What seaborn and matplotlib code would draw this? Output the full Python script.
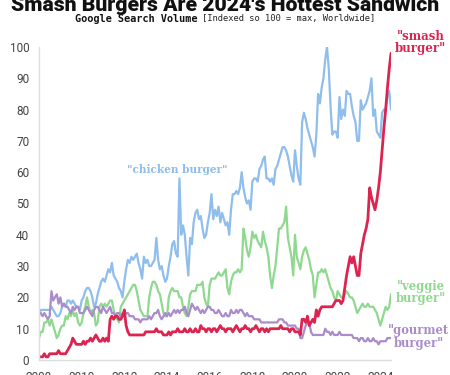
import numpy as np
import pandas as pd
import matplotlib
matplotlib.use("Agg")
import matplotlib.pyplot as plt
import seaborn as sns

# ---- data (monthly, Jan 2008 .. Jul 2024) ----
start_year = 2008
chicken = [14,16,16,16,16,16,16,17,16,15,14,14,
           15,17,18,17,19,19,18,19,18,17,17,16,
           19,20,22,23,23,22,20,17,18,21,23,25,
           26,25,27,29,28,31,27,26,25,23,22,20,
           25,29,32,31,33,32,33,34,31,29,26,33,
           31,32,30,30,31,32,39,32,29,30,27,25,
           26,30,33,37,38,34,33,58,40,43,40,33,
           27,39,37,44,47,48,45,46,42,39,40,44,
           47,53,45,48,46,49,44,47,45,43,44,40,
           48,53,53,54,53,55,60,55,52,50,51,48,
           57,58,58,57,61,62,64,65,58,58,57,58,
           56,61,62,64,66,68,68,67,65,62,59,57,
           67,62,58,56,76,79,77,74,72,70,68,65,
           72,85,82,87,90,96,100,93,81,72,73,73,
           71,84,77,80,78,86,85,85,81,78,76,70,
           70,83,80,81,82,84,86,90,78,80,73,72,
           71,79,80,80,84,86,80]
veggie = [7,9,9,12,12,13,11,13,11,9,7,8,
          10,11,11,14,13,15,14,16,14,15,12,11,
          12,15,17,20,17,15,16,15,11,12,17,18,
          17,18,17,18,19,19,16,14,13,12,17,18,
          19,20,21,22,23,24,24,22,19,16,15,14,
          14,14,20,23,25,25,24,22,21,18,15,14,
          14,20,22,23,22,22,22,20,20,17,15,14,
          17,21,22,22,22,24,24,24,25,20,18,17,
          24,26,26,26,27,28,27,27,28,29,23,21,
          25,27,28,28,29,28,29,42,39,35,33,36,
          41,39,40,38,37,36,41,38,36,33,27,23,
          27,30,36,42,42,43,44,49,39,36,33,27,
          40,33,31,29,33,35,36,34,32,29,27,20,
          24,28,28,29,28,29,27,25,23,22,20,19,
          22,21,20,20,21,22,21,20,20,19,17,15,
          16,17,18,17,17,18,17,17,17,16,15,13,
          11,13,15,17,16,17,21]
gourmet = [15,15,14,15,14,13,14,22,19,20,21,18,
           20,17,18,17,17,16,15,17,16,17,17,15,
           15,15,16,17,16,15,14,16,17,17,16,15,
           17,16,15,16,17,15,15,14,15,15,14,15,
           14,15,15,14,14,14,13,13,13,12,13,13,
           13,13,14,13,14,15,15,16,14,13,14,15,
           14,15,14,15,16,15,16,15,16,16,17,15,
           14,16,18,17,16,17,16,15,16,15,16,17,
           17,16,16,15,15,16,15,14,14,15,14,14,
           16,15,15,16,15,16,16,15,14,15,14,14,
           14,13,13,13,13,12,12,12,12,12,12,12,
           12,12,12,13,13,13,12,12,11,11,11,11,
           11,10,10,7,7,9,11,12,12,9,8,8,
           8,8,8,8,8,10,9,9,8,9,8,8,
           8,9,8,8,8,8,8,8,8,7,7,7,
           6,7,7,6,6,7,6,6,7,6,6,5,
           6,6,6,6,7,7,7]
smash = [1,1,1,2,1,1,2,2,2,2,2,3,
         2,2,2,2,3,4,5,7,6,5,5,5,
         5,6,5,6,6,7,6,7,8,7,6,6,
         7,6,7,6,13,14,13,14,14,13,13,14,
         16,11,9,8,8,8,8,8,8,8,8,8,
         9,9,9,9,9,9,10,9,9,9,8,8,
         8,9,8,9,9,9,10,9,9,9,10,9,
         9,10,9,9,10,9,9,11,10,10,9,10,
         10,9,10,10,9,10,11,10,10,9,10,10,
         10,9,10,11,10,9,10,10,11,10,10,9,
         10,10,11,10,9,10,10,9,10,9,10,10,
         10,10,10,10,11,10,10,10,10,9,10,10,
         9,9,9,8,13,13,12,14,11,12,13,12,
         16,14,16,17,17,17,17,17,17,17,18,19,
         19,19,18,19,23,27,30,33,31,33,30,27,
         27,34,37,40,42,45,55,52,50,48,51,55,
         60,67,74,80,87,93,98]

series_names = ['"chicken burger"', '"veggie burger"', '"gourmet burger"', '"smash burger"']
series_values = [chicken, veggie, gourmet, smash]
colors = ["#8fbdec", "#8fd88f", "#a98cc9", "#dc2450"]
label_text = ['"chicken burger"', '"veggie\nburger"', '"gourmet\nburger"', '"smash\nburger"']
year_ticks = [2008, 2010, 2012, 2014, 2016, 2018, 2020, 2022, 2024]
y_ticks = [0, 10, 20, 30, 40, 50, 60, 70, 80, 90, 100]

n = len(chicken)
months = start_year + np.arange(n) / 12.0
frames = []
for name, vals in zip(series_names, series_values):
    frames.append(pd.DataFrame({"date": months, "value": vals, "term": name}))
df = pd.concat(frames, ignore_index=True)

sns.set_theme(style="white")
plt.rcParams['font.family'] = ['Roboto', 'DejaVu Sans']

fig = plt.figure(figsize=(4.5, 3.75), dpi=100)
ax = fig.add_axes([39/450, 1 - 360/375, (391-39)/450, (360-47)/375])

palette = dict(zip(series_names, colors))
sns.lineplot(data=df, x="date", y="value", hue="term", palette=palette,
             hue_order=series_names, ax=ax, legend=False, linewidth=1.6)
# thicker red line
ax.lines[-1].set_linewidth(2.0)

ax.set_xlim(2008, months[-1])
ax.set_ylim(0, 100)
ax.set_xticks(year_ticks)
ax.set_yticks(y_ticks)
ax.set_xlabel("")
ax.set_ylabel("")
for s in ["top", "right"]:
    ax.spines[s].set_visible(False)
for s in ["left", "bottom"]:
    ax.spines[s].set_color("#dddddd")
    ax.spines[s].set_linewidth(1.0)
ax.tick_params(axis="both", which="both", length=4, width=0.8, color="#dddddd",
               labelcolor="#444444", labelsize=8.5, pad=3)
ax.tick_params(axis="x", pad=4)

# line labels
lab_pos = [(2014.5, 61), (2025.9, 21.5), (2025.8, 7.3), (2025.9, 101.5)]
lab_size = [7.6, 8.3, 8.3, 8.5]
for txt, (lx, ly), c, fs in zip(label_text, lab_pos, colors, lab_size):
    ax.text(lx, ly, txt, color=c, ha="center", va="center", fontsize=fs,
            family="DejaVu Serif", fontweight="bold", linespacing=0.95,
            clip_on=False)

# title (partly cut at top) and subtitle
fig.text(0.5, 1 - 11/375, "Smash Burgers Are 2024's Hottest Sandwich",
         ha="center", va="baseline", fontsize=15.2, fontweight="black",
         family=["Roboto", "DejaVu Sans"], color="#111111")
fig.text(0.439, 1 - 21.5/375, "Google Search Volume", ha="right", va="baseline",
         fontsize=7.4, fontweight="bold", family="DejaVu Sans Mono", color="#111111")
fig.text(0.449, 1 - 21.5/375, "[Indexed so 100 = max, Worldwide]", ha="left",
         va="baseline", fontsize=6.3, family="DejaVu Sans Mono", color="#222222")

fig.savefig("out.png", dpi=100)
